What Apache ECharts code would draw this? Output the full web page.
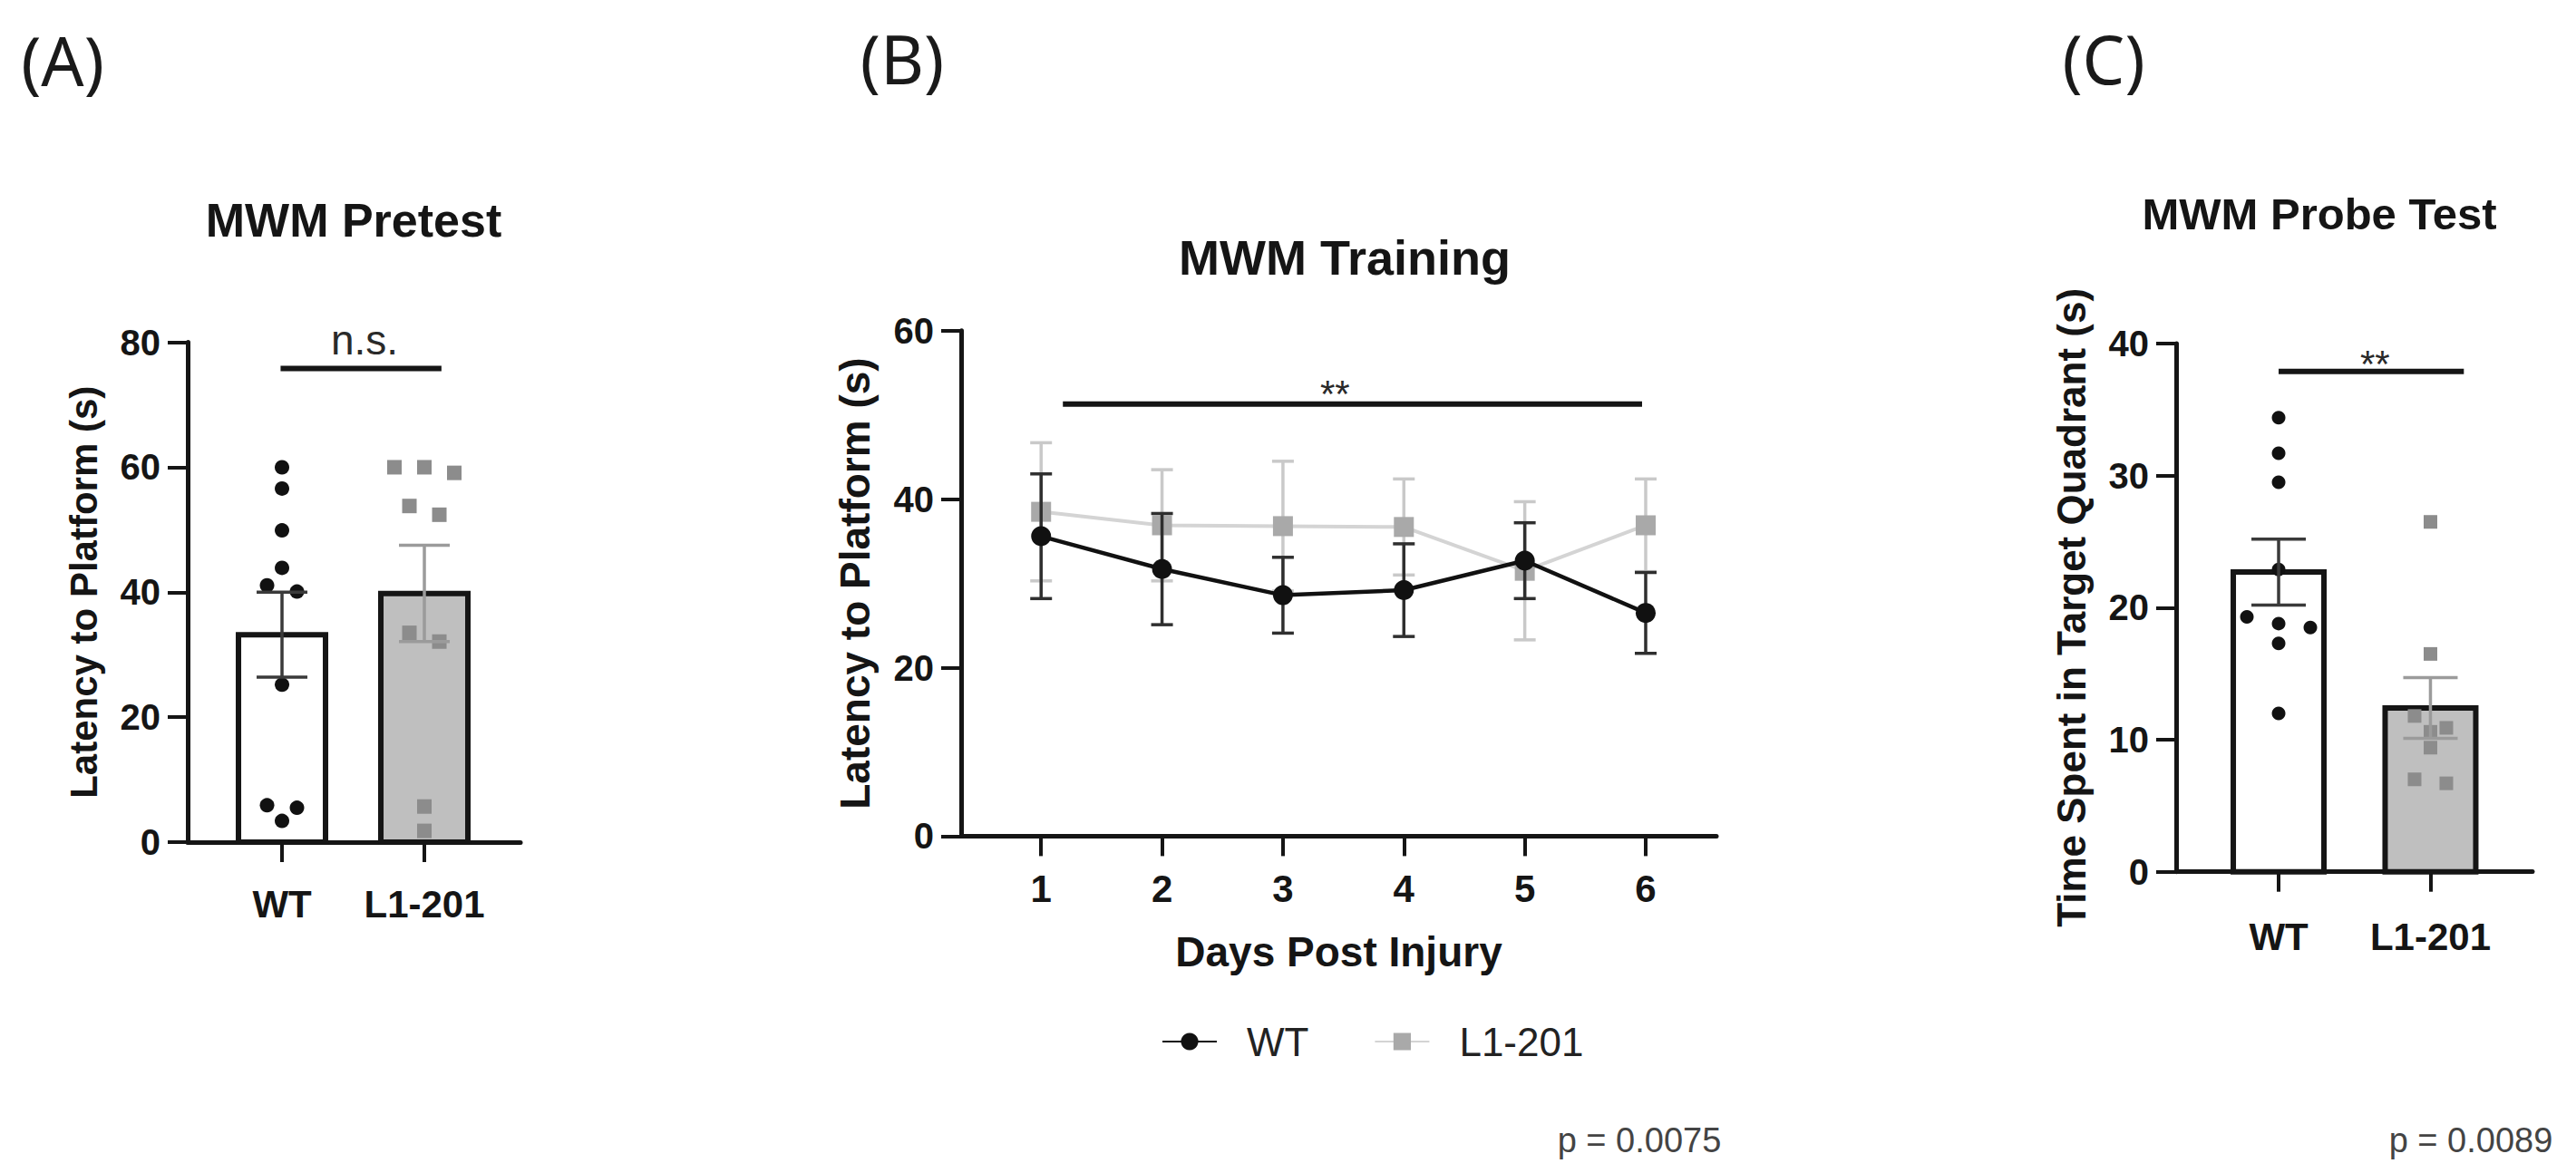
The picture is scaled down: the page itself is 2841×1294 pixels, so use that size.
<!DOCTYPE html>
<html>
<head>
<meta charset="utf-8">
<title>MWM</title>
<script src="https://cdn.jsdelivr.net/npm/echarts@6/dist/echarts.min.js"></script>
<style>
html, body { margin: 0; padding: 0; background: #fff; }
#chart_container { width: 2841px; height: 1294px; }
</style>
</head>
<body>
<div id="chart_container"></div>
<script>
var groups = ['WT', 'L1-201'];

// (A) MWM Pretest - latency to platform (s)
var pretestWT = [60, 56.6, 49.9, 43.9, 41.1, 40.1, 25.2, 5.9, 5.5, 3.4];
var pretestL1 = [60, 59.1, 60, 53.8, 52.4, 33.5, 32.1, 5.7, 1.8];
var pretestMean = [33.2, 39.8];
var pretestSem = [6.8, 7.7];

// (B) MWM Training - latency per day
var days = [1, 2, 3, 4, 5, 6];
var trainWT = [35.6, 31.7, 28.6, 29.2, 32.7, 26.5];
var trainWTSem = [7.4, 6.6, 4.5, 5.5, 4.5, 4.8];
var trainL1 = [38.5, 36.9, 36.8, 36.7, 31.5, 36.9];
var trainL1Sem = [8.2, 6.6, 7.7, 5.7, 8.2, 5.5];

// (C) MWM Probe Test - time in target quadrant (s)
var probeWT = [34.4, 31.7, 29.5, 22.9, 19.3, 18.8, 18.5, 17.3, 12.0];
var probeL1 = [26.5, 16.5, 11.8, 10.9, 10.6, 9.4, 7.0, 6.7];
var probeMean = [22.7, 12.4];
var probeSem = [2.5, 2.3];

// significance bars (A, B, C)
var sigLabels = ['n.s.', '**', '**'];
var sigFrom = [0.99, 1.18, 1.0];
var sigTo = [2.12, 5.97, 2.22];
var sigY = [75.8, 51.3, 37.9];
var sigTextX = [1.58, 3.43, 1.635];

var pValues = ['p = 0.0075', 'p = 0.0089'];

var FONT = 'Liberation Sans, Arial, sans-serif';
var INK = '#151515';

var chart = echarts.init(document.getElementById('chart_container'), null, {renderer: 'svg'});

function yAxisOf(gridIndex, max, interval, name, nameSize) {
	return {
		type: 'value', gridIndex: gridIndex, min: 0, max: max, interval: interval,
		name: name, nameLocation: 'middle', nameRotate: 90, nameGap: 94,
		nameTextStyle: {fontFamily: FONT, fontWeight: 'bold', fontSize: nameSize, color: INK},
		axisLine: {show: true, lineStyle: {color: INK, width: 5}},
		axisTick: {show: true, length: 22, lineStyle: {color: INK, width: 4}},
		axisLabel: {margin: 30, fontFamily: FONT, fontWeight: 'bold', fontSize: 40, color: INK},
		splitLine: {show: false}
	};
}

function xAxisOf(gridIndex, min, max, ticks, labels, margin, size) {
	return {
		type: 'value', gridIndex: gridIndex, min: min, max: max,
		axisLine: {show: true, onZero: false, lineStyle: {color: INK, width: 5}},
		axisTick: {show: true, length: 22, customValues: ticks, lineStyle: {color: INK, width: 4}},
		axisLabel: {
			customValues: ticks, margin: margin, fontFamily: FONT, fontWeight: 'bold', fontSize: size, color: INK,
			formatter: function (v) { return labels ? labels[Math.round(v) - 1] : String(Math.round(v)); }
		},
		splitLine: {show: false}
	};
}

// spread dots of one column into rows, like a scatter dot plot
function swarmSlots(values, rowUnits) {
	var order = values.map(function (v, i) { return i; })
		.sort(function (a, b) { return values[b] - values[a]; });
	var slots = [];
	var k = 0;
	while (k < order.length) {
		var row = [order[k]];
		var start = values[order[k]];
		k++;
		while (k < order.length && start - values[order[k]] < rowUnits) { row.push(order[k]); k++; }
		row.forEach(function (idx, j) { slots[idx] = (j - (row.length - 1) / 2) * 2; });
	}
	return slots;
}

function dotsSeries(axisIndex, groupX, values, shape, color, size, step) {
	return {
		type: 'custom', xAxisIndex: axisIndex, yAxisIndex: axisIndex, z: 3,
		data: values.map(function (v) { return [groupX, v]; }),
		renderItem: function (params, api) {
			var unitPx = api.size([0, 1])[1];
			var slots = swarmSlots(values, size / unitPx);
			var c = api.coord([api.value(0), api.value(1)]);
			var cx = c[0] + slots[params.dataIndex] * step, cy = c[1];
			if (shape === 'circle') {
				return {type: 'circle', shape: {cx: cx, cy: cy, r: size / 2}, style: {fill: color}};
			}
			return {type: 'rect', shape: {x: cx - size / 2, y: cy - size / 2, width: size, height: size}, style: {fill: color}};
		}
	};
}

function barSeries(axisIndex, means, half) {
	var fills = ['#ffffff', '#bfbfbf'];
	return {
		type: 'custom', xAxisIndex: axisIndex, yAxisIndex: axisIndex, z: 2,
		data: means.map(function (m, i) { return [i + 1, m]; }),
		renderItem: function (params, api) {
			var top = api.coord([api.value(0), api.value(1)]);
			var base = api.coord([api.value(0), 0]);
			return {
				type: 'rect',
				shape: {x: top[0] - half, y: top[1], width: half * 2, height: base[1] - top[1]},
				style: {fill: fills[params.dataIndex], stroke: INK, lineWidth: 6}
			};
		}
	};
}

function errorSeries(axisIndex, xs, means, sems, colors, capHalf, width, z) {
	return {
		type: 'custom', xAxisIndex: axisIndex, yAxisIndex: axisIndex, z: z,
		data: means.map(function (m, i) { return [xs[i], m, sems[i]]; }),
		renderItem: function (params, api) {
			var x = api.value(0), m = api.value(1), e = api.value(2);
			var top = api.coord([x, m + e]), bot = api.coord([x, m - e]);
			var col = colors[params.dataIndex % colors.length];
			var st = {stroke: col, lineWidth: width};
			return {type: 'group', children: [
				{type: 'line', shape: {x1: top[0], y1: top[1], x2: bot[0], y2: bot[1]}, style: st},
				{type: 'line', shape: {x1: top[0] - capHalf, y1: top[1], x2: top[0] + capHalf, y2: top[1]}, style: st},
				{type: 'line', shape: {x1: bot[0] - capHalf, y1: bot[1], x2: bot[0] + capHalf, y2: bot[1]}, style: st}
			]};
		}
	};
}

function sigSeries(i, textSize, textWeight, lift) {
	return {
		type: 'custom', xAxisIndex: i, yAxisIndex: i, z: 4,
		data: [[sigFrom[i], sigTo[i], sigY[i], sigTextX[i]]],
		renderItem: function (params, api) {
			var a = api.coord([api.value(0), api.value(2)]);
			var b = api.coord([api.value(1), api.value(2)]);
			var t = api.coord([api.value(3), api.value(2)]);
			return {type: 'group', children: [
				{type: 'line', shape: {x1: a[0], y1: a[1], x2: b[0], y2: b[1]}, style: {stroke: INK, lineWidth: 6}},
				{type: 'text', x: t[0], y: t[1] - lift,
					style: {text: sigLabels[i], fill: '#2a2a2a', fontFamily: FONT, fontSize: textSize,
						fontWeight: textWeight, align: 'center', verticalAlign: 'middle'}}
			]};
		}
	};
}

function label(text, x, y, size, weight, family, color) {
	return {
		type: 'text', x: x, y: y, silent: true,
		style: {text: text, fill: color || INK, fontFamily: family || FONT, fontSize: size,
			fontWeight: weight || 'bold', align: 'center', verticalAlign: 'middle',
			textAlign: 'center', textVerticalAlign: 'middle'}
	};
}

var option = {
	animation: false,
	backgroundColor: '#ffffff',
	grid: [
		{left: 207, top: 377.6, width: 367, height: 551.4, outerBoundsMode: 'none'},
		{left: 1060, top: 364.8, width: 833, height: 557.6, outerBoundsMode: 'none'},
		{left: 2400, top: 379.1, width: 393, height: 582.6, outerBoundsMode: 'none'}
	],
	xAxis: [
		xAxisOf(0, 0.3375, 2.675, [1, 2], groups, 47, 42),
		xAxisOf(1, 0.3385, 6.585, days, null, 37, 42),
		xAxisOf(2, 0.325, 2.672, [1, 2], groups, 51, 42)
	],
	yAxis: [
		yAxisOf(0, 80, 20, 'Latency to Platform (s)', 42),
		yAxisOf(1, 60, 20, 'Latency to Platform (s)', 46),
		yAxisOf(2, 40, 10, 'Time Spent in Target Quadrant (s)', 44)
	],
	legend: {
		data: ['WT', 'L1-201'], left: 1281, top: 1127, padding: 0,
		itemWidth: 60, itemHeight: 24, itemGap: 72, selectedMode: false,
		textStyle: {fontFamily: FONT, fontSize: 44, color: '#222', padding: [0, 0, 0, 28]}
	},
	graphic: [
		label('(A)', 69, 66, 74, 'normal', 'Noto Sans', '#1a1a1a'),
		label('(B)', 995, 64, 74, 'normal', 'Noto Sans', '#1a1a1a'),
		label('(C)', 2320, 64, 74, 'normal', 'Noto Sans', '#1a1a1a'),
		label('MWM Pretest', 390, 243, 52),
		label('MWM Training', 1483, 284, 54),
		label('MWM Probe Test', 2558, 236, 49),
		label(pValues[0], 1808, 1258, 38, 'normal', FONT, '#444'),
		label(pValues[1], 2725, 1258, 38, 'normal', FONT, '#444')
	],
	series: [
		// (A)
		barSeries(0, pretestMean, 48),
		dotsSeries(0, 1, pretestWT, 'circle', '#111111', 16, 16.5),
		dotsSeries(0, 2, pretestL1, 'rect', '#8c8c8c', 16, 16.5),
		errorSeries(0, [1, 2], pretestMean, pretestSem, ['#3a3a3a', '#9b9b9b'], 28, 3.5, 4),
		sigSeries(0, 46, 'normal', 32),

		// (B)
		errorSeries(1, days, trainL1, trainL1Sem, ['#c9c9c9'], 12, 3.5, 2),
		{
			name: 'L1-201', type: 'line', xAxisIndex: 1, yAxisIndex: 1, z: 3,
			data: days.map(function (d, i) { return [d, trainL1[i]]; }),
			symbol: 'rect', symbolSize: 22,
			lineStyle: {color: '#d4d4d4', width: 4},
			itemStyle: {color: '#a9a9a9'}
		},
		errorSeries(1, days, trainWT, trainWTSem, ['#2f2f2f'], 12, 3.5, 4),
		{
			name: 'WT', type: 'line', xAxisIndex: 1, yAxisIndex: 1, z: 5,
			data: days.map(function (d, i) { return [d, trainWT[i]]; }),
			symbol: 'circle', symbolSize: 22,
			lineStyle: {color: '#111111', width: 4.5},
			itemStyle: {color: '#111111'}
		},
		sigSeries(1, 42, 'normal', 11),

		// (C)
		barSeries(2, probeMean, 50),
		dotsSeries(2, 1, probeWT, 'circle', '#111111', 15, 17.5),
		dotsSeries(2, 2, probeL1, 'rect', '#8c8c8c', 15, 17.5),
		errorSeries(2, [1, 2], probeMean, probeSem, ['#3a3a3a', '#9b9b9b'], 30, 3.5, 4),
		sigSeries(2, 42, 'normal', 8)
	]
};

option.xAxis[1].name = 'Days Post Injury';
option.xAxis[1].nameLocation = 'middle';
option.xAxis[1].nameGap = 105;
option.xAxis[1].nameTextStyle = {fontFamily: FONT, fontWeight: 'bold', fontSize: 46, color: INK};

chart.setOption(option);
</script>
</body>
</html>
